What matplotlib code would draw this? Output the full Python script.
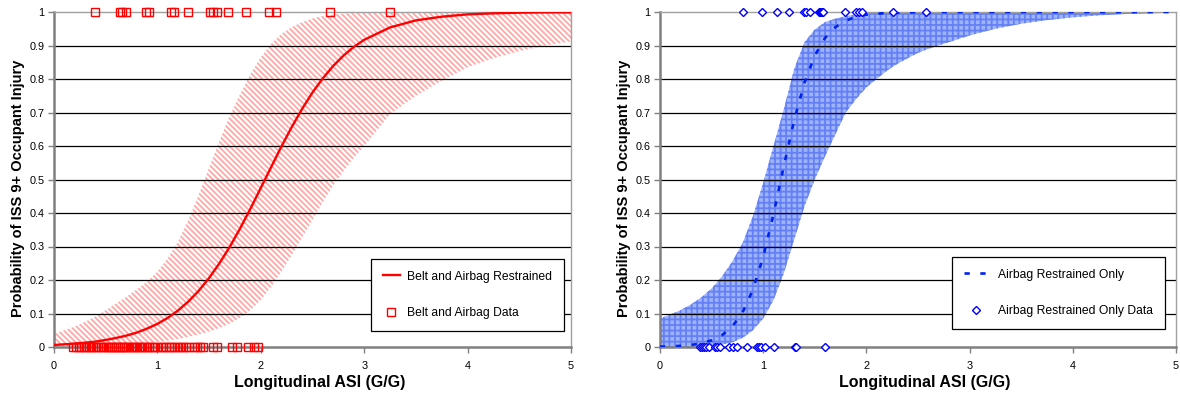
import matplotlib
matplotlib.use("Agg")
import matplotlib.pyplot as plt

plt.rcParams['font.family'] = ['Liberation Sans', 'DejaVu Sans']

# ASI values where the fitted curves are tabulated
asi = [0.0, 0.1, 0.2, 0.3, 0.4, 0.5, 0.6, 0.7, 0.8, 0.9,
       1.0, 1.1, 1.2, 1.3, 1.4, 1.5, 1.6, 1.7, 1.8, 1.9,
       2.0, 2.1, 2.2, 2.3, 2.4, 2.5, 2.6, 2.7, 2.8, 2.9,
       3.0, 3.25, 3.5, 3.75, 4.0, 4.25, 4.5, 4.75, 5.0]

# belt and airbag restrained: fit and confidence band
belt_fit = [0.006, 0.008, 0.010, 0.013, 0.016, 0.021, 0.027, 0.034, 0.043, 0.055,
            0.069, 0.087, 0.109, 0.136, 0.168, 0.206, 0.250, 0.299, 0.354, 0.413,
            0.475, 0.537, 0.599, 0.657, 0.711, 0.760, 0.802, 0.839, 0.870, 0.896,
            0.917, 0.954, 0.975, 0.986, 0.993, 0.996, 0.998, 0.999, 0.999]
belt_hi = [0.040, 0.050, 0.061, 0.075, 0.091, 0.110, 0.130, 0.150, 0.172, 0.195,
           0.225, 0.265, 0.315, 0.380, 0.455, 0.535, 0.615, 0.690, 0.755, 0.815,
           0.865, 0.905, 0.935, 0.955, 0.970, 0.981, 0.988, 0.992, 0.995, 0.997,
           0.998, 0.999, 1.0, 1.0, 1.0, 1.0, 1.0, 1.0, 1.0]
belt_lo = [0.001, 0.0013, 0.0017, 0.0022, 0.0029, 0.0038, 0.005, 0.0065, 0.0085, 0.011,
           0.015, 0.019, 0.024, 0.030, 0.037, 0.046, 0.057, 0.070, 0.087, 0.110,
           0.140, 0.180, 0.225, 0.275, 0.327, 0.380, 0.433, 0.482, 0.525, 0.565,
           0.600, 0.695, 0.750, 0.795, 0.835, 0.862, 0.883, 0.900, 0.912]

belt_injured = [0.40, 0.64, 0.66, 0.70, 0.89, 0.92, 1.13, 1.16, 1.30, 1.51,
                1.54, 1.58, 1.68, 1.86, 2.08, 2.15, 2.67, 3.25]
belt_uninjured = [0.18, 0.21, 0.24, 0.26, 0.29, 0.31, 0.34, 0.36, 0.38, 0.41,
                  0.43, 0.45, 0.47, 0.50, 0.52, 0.54, 0.56, 0.58, 0.60, 0.62,
                  0.64, 0.66, 0.68, 0.70, 0.72, 0.74, 0.76, 0.78, 0.80, 0.83,
                  0.85, 0.87, 0.90, 0.92, 0.95, 0.97, 1.00, 1.03, 1.05, 1.08,
                  1.11, 1.13, 1.16, 1.19, 1.22, 1.25, 1.28, 1.31, 1.35, 1.38,
                  1.41, 1.44, 1.54, 1.58, 1.72, 1.77, 1.88, 1.93, 1.97]

# airbag only: fit and confidence band
bag_fit = [0.001, 0.002, 0.0035, 0.006, 0.011, 0.020, 0.035, 0.061, 0.103, 0.171,
           0.269, 0.397, 0.540, 0.677, 0.789, 0.870, 0.923, 0.955, 0.974, 0.986,
           0.992, 0.995, 0.997, 0.998, 0.999, 0.999, 1.0, 1.0, 1.0, 1.0,
           1.0, 1.0, 1.0, 1.0, 1.0, 1.0, 1.0, 1.0, 1.0]
bag_hi = [0.085, 0.097, 0.110, 0.127, 0.148, 0.175, 0.210, 0.255, 0.310, 0.390,
          0.490, 0.600, 0.710, 0.830, 0.910, 0.948, 0.970, 0.980, 0.988, 0.993,
          0.996, 0.998, 0.999, 1.0, 1.0, 1.0, 1.0, 1.0, 1.0, 1.0,
          1.0, 1.0, 1.0, 1.0, 1.0, 1.0, 1.0, 1.0, 1.0]
bag_lo = [0.0, 0.0, 0.0001, 0.0003, 0.001, 0.003, 0.007, 0.014, 0.027, 0.050,
          0.085, 0.140, 0.220, 0.320, 0.420, 0.500, 0.570, 0.635, 0.700, 0.740,
          0.775, 0.800, 0.825, 0.845, 0.862, 0.878, 0.890, 0.900, 0.910, 0.920,
          0.930, 0.950, 0.965, 0.976, 0.984, 0.990, 0.994, 0.996, 0.998]

bag_injured = [0.80, 0.99, 1.13, 1.25, 1.40, 1.41, 1.45, 1.54, 1.55, 1.56,
               1.57, 1.58, 1.79, 1.90, 1.93, 1.96, 2.26, 2.58]
bag_uninjured = [0.39, 0.41, 0.43, 0.45, 0.47, 0.53, 0.55, 0.58, 0.67, 0.71,
                 0.75, 0.84, 0.94, 0.96, 0.98, 1.02, 1.10, 1.31, 1.32, 1.60]

xticks = [0, 1, 2, 3, 4, 5]
yticks = [0, 0.1, 0.2, 0.3, 0.4, 0.5, 0.6, 0.7, 0.8, 0.9, 1]
ytick_labels = ['0', '0.1', '0.2', '0.3', '0.4', '0.5', '0.6', '0.7', '0.8', '0.9', '1']

plt.rcParams['hatch.linewidth'] = 1.3

fig = plt.figure(figsize=(11.8, 3.96), dpi=100)
ax1 = fig.add_axes([54 / 1180, 49 / 396, 517 / 1180, 335 / 396])
ax2 = fig.add_axes([660 / 1180, 49 / 396, 516 / 1180, 335 / 396])


def style(ax):
    ax.set_xlim(0, 5)
    ax.set_ylim(0, 1)
    for y in yticks[1:-1]:
        ax.axhline(y, color='black', lw=0.9, zorder=1.8)
    for s in ['left', 'bottom']:
        ax.spines[s].set_color('#808080')
        ax.spines[s].set_linewidth(1.8)
    for s in ['top', 'right']:
        ax.spines[s].set_color('#a0a0a0')
        ax.spines[s].set_linewidth(1.0)
    ax.set_xticks(xticks)
    ax.set_yticks(yticks)
    ax.set_yticklabels(ytick_labels)
    ax.tick_params(axis='both', labelsize=7.8, length=4, width=1, color='#808080', pad=3)
    ax.tick_params(axis='x', pad=6)
    ax.set_xlabel('Longitudinal ASI (G/G)', fontsize=11.5, fontweight='bold')
    ax.set_ylabel('Probability of ISS 9+ Occupant Injury', fontsize=10.5,
                  fontweight='bold')
    ax.xaxis.set_label_coords(0.513, -0.085)
    ax.yaxis.set_label_coords(-0.056, 0.475)


# left: belt and airbag
style(ax1)
ax1.fill_between(asi, belt_lo, belt_hi, facecolor='none', edgecolor='#ffa8a8',
                 hatch='\\' * 6, linewidth=0, zorder=1)
ax1.plot(asi, belt_fit, color='#ff0000', lw=1.7, zorder=3,
         label='Belt and Airbag Restrained')
ax1.plot(belt_injured, [1] * len(belt_injured), 's', ms=5.5, mfc='none', mec='#ff0000',
         mew=1, clip_on=False, zorder=4, label='Belt and Airbag Data')
ax1.plot(belt_uninjured, [0] * len(belt_uninjured), 's', ms=5.5, mfc='none',
         mec='#ff0000', mew=1, clip_on=False, zorder=4)
leg1 = ax1.legend(loc='lower right', bbox_to_anchor=(0.9865, 0.048), fontsize=8.7,
                  frameon=True, fancybox=False, framealpha=1, edgecolor='black',
                  handlelength=1.4, handletextpad=0.6, labelspacing=2.0,
                  borderpad=1.0, borderaxespad=0, numpoints=1)
leg1.get_frame().set_linewidth(0.9)
leg1.set_zorder(5)

# right: airbag only
style(ax2)
ax2.fill_between(asi, bag_lo, bag_hi, facecolor='#9db4fc', edgecolor='none',
                 linewidth=0, zorder=1)
ax2.fill_between(asi, bag_lo, bag_hi, facecolor='none', edgecolor='#6580f4',
                 hatch='+++', linewidth=0, zorder=1.2)
ax2.plot(asi, bag_fit, color='#0022ee', lw=1.9, ls=(0, (2, 4)), zorder=3,
         label='Airbag Restrained Only')
ax2.plot(bag_injured, [1] * len(bag_injured), 'D', ms=4.2, mfc='white', mec='#0000ff',
         mew=1, clip_on=False, zorder=4, label='Airbag Restrained Only Data')
ax2.plot(bag_uninjured, [0] * len(bag_uninjured), 'D', ms=4.2, mfc='white',
         mec='#0000ff', mew=1, clip_on=False, zorder=4)
leg2 = ax2.legend(loc='lower right', bbox_to_anchor=(0.979, 0.054), fontsize=8.7,
                  frameon=True, fancybox=False, framealpha=1, edgecolor='black',
                  handlelength=2.0, handletextpad=0.8, labelspacing=2.0,
                  borderpad=1.0, borderaxespad=0, numpoints=1)
leg2.get_frame().set_linewidth(0.9)
leg2.set_zorder(5)

fig.savefig('out.png', dpi=100)
